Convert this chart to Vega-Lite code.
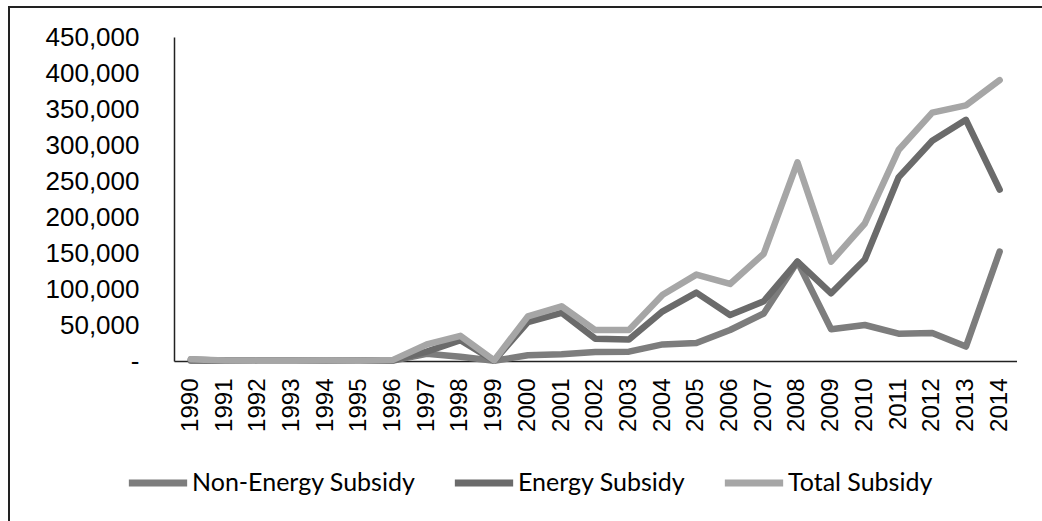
{
  "$schema": "https://vega.github.io/schema/vega-lite/v6.json",
  "width": 1037,
  "height": 518,
  "autosize": {"type": "none"},
  "padding": {"left": 9, "top": 7, "right": -4, "bottom": -4},
  "background": "white",
  "config": {
    "view": {"stroke": "#222222", "strokeWidth": 2},
    "axis": {"labelFont": "Liberation Sans", "labelColor": "#000000", "domainColor": "#222222", "domainWidth": 1.5, "ticks": false, "grid": false, "title": null}
  },
  "data": {
    "values": [
      {"Year": "1990", "Series": "Non-Energy Subsidy", "Value": 500},
      {"Year": "1991", "Series": "Non-Energy Subsidy", "Value": 300},
      {"Year": "1992", "Series": "Non-Energy Subsidy", "Value": 200},
      {"Year": "1993", "Series": "Non-Energy Subsidy", "Value": 200},
      {"Year": "1994", "Series": "Non-Energy Subsidy", "Value": 300},
      {"Year": "1995", "Series": "Non-Energy Subsidy", "Value": 200},
      {"Year": "1996", "Series": "Non-Energy Subsidy", "Value": 500},
      {"Year": "1997", "Series": "Non-Energy Subsidy", "Value": 10000},
      {"Year": "1998", "Series": "Non-Energy Subsidy", "Value": 6000},
      {"Year": "1999", "Series": "Non-Energy Subsidy", "Value": 300},
      {"Year": "2000", "Series": "Non-Energy Subsidy", "Value": 8000},
      {"Year": "2001", "Series": "Non-Energy Subsidy", "Value": 9500},
      {"Year": "2002", "Series": "Non-Energy Subsidy", "Value": 12500},
      {"Year": "2003", "Series": "Non-Energy Subsidy", "Value": 13000},
      {"Year": "2004", "Series": "Non-Energy Subsidy", "Value": 23000},
      {"Year": "2005", "Series": "Non-Energy Subsidy", "Value": 25000},
      {"Year": "2006", "Series": "Non-Energy Subsidy", "Value": 43000},
      {"Year": "2007", "Series": "Non-Energy Subsidy", "Value": 66000},
      {"Year": "2008", "Series": "Non-Energy Subsidy", "Value": 138000},
      {"Year": "2009", "Series": "Non-Energy Subsidy", "Value": 44000},
      {"Year": "2010", "Series": "Non-Energy Subsidy", "Value": 50000},
      {"Year": "2011", "Series": "Non-Energy Subsidy", "Value": 38000},
      {"Year": "2012", "Series": "Non-Energy Subsidy", "Value": 39000},
      {"Year": "2013", "Series": "Non-Energy Subsidy", "Value": 20000},
      {"Year": "2014", "Series": "Non-Energy Subsidy", "Value": 152000},
      {"Year": "1990", "Series": "Energy Subsidy", "Value": 2000},
      {"Year": "1991", "Series": "Energy Subsidy", "Value": 500},
      {"Year": "1992", "Series": "Energy Subsidy", "Value": 300},
      {"Year": "1993", "Series": "Energy Subsidy", "Value": 300},
      {"Year": "1994", "Series": "Energy Subsidy", "Value": 400},
      {"Year": "1995", "Series": "Energy Subsidy", "Value": 300},
      {"Year": "1996", "Series": "Energy Subsidy", "Value": 1000},
      {"Year": "1997", "Series": "Energy Subsidy", "Value": 13000},
      {"Year": "1998", "Series": "Energy Subsidy", "Value": 29000},
      {"Year": "1999", "Series": "Energy Subsidy", "Value": 500},
      {"Year": "2000", "Series": "Energy Subsidy", "Value": 54000},
      {"Year": "2001", "Series": "Energy Subsidy", "Value": 67000},
      {"Year": "2002", "Series": "Energy Subsidy", "Value": 31000},
      {"Year": "2003", "Series": "Energy Subsidy", "Value": 30000},
      {"Year": "2004", "Series": "Energy Subsidy", "Value": 69000},
      {"Year": "2005", "Series": "Energy Subsidy", "Value": 95000},
      {"Year": "2006", "Series": "Energy Subsidy", "Value": 64000},
      {"Year": "2007", "Series": "Energy Subsidy", "Value": 83000},
      {"Year": "2008", "Series": "Energy Subsidy", "Value": 138000},
      {"Year": "2009", "Series": "Energy Subsidy", "Value": 94000},
      {"Year": "2010", "Series": "Energy Subsidy", "Value": 141000},
      {"Year": "2011", "Series": "Energy Subsidy", "Value": 255000},
      {"Year": "2012", "Series": "Energy Subsidy", "Value": 306000},
      {"Year": "2013", "Series": "Energy Subsidy", "Value": 335000},
      {"Year": "2014", "Series": "Energy Subsidy", "Value": 238000},
      {"Year": "1990", "Series": "Total Subsidy", "Value": 2500},
      {"Year": "1991", "Series": "Total Subsidy", "Value": 800},
      {"Year": "1992", "Series": "Total Subsidy", "Value": 500},
      {"Year": "1993", "Series": "Total Subsidy", "Value": 500},
      {"Year": "1994", "Series": "Total Subsidy", "Value": 700},
      {"Year": "1995", "Series": "Total Subsidy", "Value": 500},
      {"Year": "1996", "Series": "Total Subsidy", "Value": 1500},
      {"Year": "1997", "Series": "Total Subsidy", "Value": 23000},
      {"Year": "1998", "Series": "Total Subsidy", "Value": 35000},
      {"Year": "1999", "Series": "Total Subsidy", "Value": 800},
      {"Year": "2000", "Series": "Total Subsidy", "Value": 62000},
      {"Year": "2001", "Series": "Total Subsidy", "Value": 76000},
      {"Year": "2002", "Series": "Total Subsidy", "Value": 43000},
      {"Year": "2003", "Series": "Total Subsidy", "Value": 43000},
      {"Year": "2004", "Series": "Total Subsidy", "Value": 92000},
      {"Year": "2005", "Series": "Total Subsidy", "Value": 120000},
      {"Year": "2006", "Series": "Total Subsidy", "Value": 107000},
      {"Year": "2007", "Series": "Total Subsidy", "Value": 149000},
      {"Year": "2008", "Series": "Total Subsidy", "Value": 276000},
      {"Year": "2009", "Series": "Total Subsidy", "Value": 138000},
      {"Year": "2010", "Series": "Total Subsidy", "Value": 191000},
      {"Year": "2011", "Series": "Total Subsidy", "Value": 293000},
      {"Year": "2012", "Series": "Total Subsidy", "Value": 345000},
      {"Year": "2013", "Series": "Total Subsidy", "Value": 355000},
      {"Year": "2014", "Series": "Total Subsidy", "Value": 390000}
    ]
  },
  "mark": {"type": "line", "strokeWidth": 6.5, "strokeCap": "round", "strokeJoin": "round"},
  "encoding": {
    "x": {
      "field": "Year", "type": "ordinal", "bandPosition": 0.5,
      "scale": {"type": "band", "range": [165, 1007.5], "paddingInner": 0, "paddingOuter": 0},
      "axis": {"orient": "bottom", "offset": -164, "labelAngle": -90, "labelFontSize": 24, "labelPadding": 17}
    },
    "y": {
      "field": "Value", "type": "quantitative",
      "scale": {"domain": [0, 450000], "range": [354, 30], "nice": false},
      "axis": {"orient": "left", "offset": -165, "values": [0, 50000, 100000, 150000, 200000, 250000, 300000, 350000, 400000, 450000], "labelExpr": "datum.value === 0 ? '-\u00a0' : format(datum.value, ',')", "labelFontSize": 26, "labelPadding": 35}
    },
    "color": {
      "field": "Series", "type": "nominal",
      "scale": {"domain": ["Non-Energy Subsidy", "Energy Subsidy", "Total Subsidy"], "range": ["#7d7d7d", "#6b6b6b", "#a6a6a6"]},
      "legend": {
        "title": null, "orient": "none", "direction": "horizontal", "legendX": 116, "legendY": 443,
        "symbolType": "stroke", "symbolSize": 3400, "symbolStrokeWidth": 7, "labelFont": "Lato", "labelFontSize": 25, "labelLimit": 0, "labelColor": "#000000", "labelOffset": 1, "columnPadding": 24, "padding": 0
      }
    }
  }
}
